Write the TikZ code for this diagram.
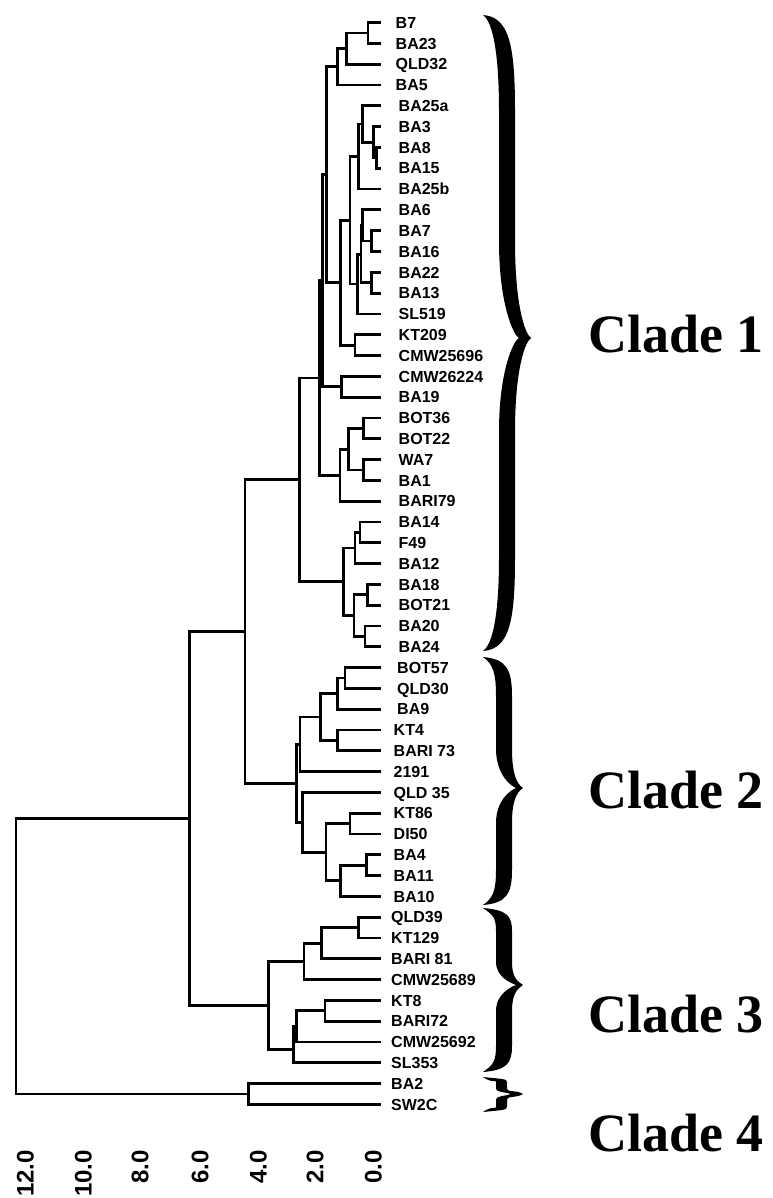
\documentclass[tikz,border=0pt]{standalone}
\usepackage{fontspec}
\setmainfont{Liberation Sans}
\newfontfamily\cladefont{Liberation Serif}
% internal junction of the dendrogram: name, x, position in leaf units
\newcommand\dnode[3]{\coordinate (#1) at (#2,{22.7+20.8*#3});}
% elbow connector: parent, upper child, lower child
\newcommand\dlink[3]{\draw[branch] (#2) -| (#1) |- (#3);}
% filled curly brace: x0 (ends), xi, xo (column), xt (tip), top, tip y, bottom
\newcommand\cbrace[7]{%
  \pgfmathsetmacro\La{#6-#5}%
  \pgfmathsetmacro\Lb{#7-#6}%
  \fill[black] (#1,#5)
    .. controls ({#3-4},{#5+2}) and ({#3+1},{#5+0.1*\La}) .. ({#3+1},{#5+0.3*\La})
    -- ({#3+1},{#6-0.3*\La})
    .. controls ({#3+1},{#6-0.1*\La}) and ({#4-6},{#6-4}) .. (#4,#6)
    .. controls ({#4-6},{#6+4}) and ({#3+1},{#6+0.1*\Lb}) .. ({#3+1},{#6+0.3*\Lb})
    -- ({#3+1},{#7-0.3*\Lb})
    .. controls ({#3+1},{#7-0.1*\Lb}) and ({#3-4},{#7-2}) .. (#1,#7)
    .. controls ({#1+10},{#7-7}) and (#2,{#7-0.12*\Lb}) .. (#2,{#7-0.3*\Lb})
    -- (#2,{#6+0.3*\Lb})
    .. controls (#2,{#6+0.1*\Lb}) and (#3,{#6+2}) .. ({#3+5},#6)
    .. controls (#3,{#6-2}) and (#2,{#6-0.1*\La}) .. (#2,{#6-0.3*\La})
    -- (#2,{#5+0.3*\La})
    .. controls (#2,{#5+0.12*\La}) and ({#1+10},{#5+7}) .. (#1,#5) -- cycle;}
\begin{document}
\begin{tikzpicture}[x=1pt,y=-1pt,
  branch/.style={line width=2.8pt},
  leaflabel/.style={anchor=base west,inner sep=0pt,font=\fontsize{16}{18}\selectfont\bfseries},
  axislabel/.style={anchor=base east,inner sep=0pt,rotate=90,font=\fontsize{24}{28}\selectfont\bfseries},
  cladelabel/.style={anchor=base west,inner sep=0pt,font=\cladefont\fontsize{54}{60}\selectfont\bfseries}]
\useasboundingbox (0,0) rectangle (772,1198);
\fill[white] (0,0) rectangle (772,1198);

% leaves
\foreach \nm [count=\i from 0] in {B7,BA23,QLD32,BA5,BA25a,BA3,BA8,BA15,BA25b,BA6,BA7,BA16,BA22,BA13,SL519,KT209,CMW25696,CMW26224,BA19,BOT36,BOT22,WA7,BA1,BARI79,BA14,F49,BA12,BA18,BOT21,BA20,BA24,BOT57,QLD30,BA9,KT4,BARI 73,2191,QLD 35,KT86,DI50,BA4,BA11,BA10,QLD39,KT129,BARI 81,CMW25689,KT8,BARI72,CMW25692,SL353,BA2,SW2C}{
  \pgfmathsetmacro\yy{22.7+20.8*\i}
  \pgfmathsetmacro\xx{\i<4 ? 395.5 : (\i<31 ? 398.5 : (\i<34 ? 397 : (\i<43 ? 393.5 : 391)))}
  \coordinate (l\i) at (381,\yy);
  \node[leaflabel] (t\i) at (\xx,{\yy+5.7}) {\nm};
}

% clade 1
\dnode{a1}{368}{0.5}        \dlink{a1}{l0}{l1}
\dnode{a2}{346.7}{1.25}     \dlink{a2}{a1}{l2}
\dnode{a3}{337.7}{2.125}    \dlink{a3}{a2}{l3}
\dnode{b1}{376.7}{6.5}      \dlink{b1}{l6}{l7}
\dnode{b2}{373.3}{5.75}     \dlink{b2}{l5}{b1}
\dnode{b3}{362.7}{4.875}    \dlink{b3}{l4}{b2}
\dnode{b4}{358.3}{6.4375}   \dlink{b4}{b3}{l8}
\dnode{c1}{371.7}{10.5}     \dlink{c1}{l10}{l11}
\dnode{c2}{362.7}{9.75}     \dlink{c2}{l9}{c1}
\dnode{c3}{371.7}{12.5}     \dlink{c3}{l12}{l13}
\dnode{c4}{361}{11.125}     \dlink{c4}{c2}{c3}
\dnode{c5}{357.5}{12.5625}  \dlink{c5}{c4}{l14}
\dnode{d1}{350}{9.5}        \dlink{d1}{b4}{c5}
\dnode{e1}{355}{15.5}       \dlink{e1}{l15}{l16}
\dnode{d2}{340.3}{12.5}     \dlink{d2}{d1}{e1}
\dnode{d3}{326.7}{7.3125}   \dlink{d3}{a3}{d2}
\dnode{f1}{341.7}{17.5}     \dlink{f1}{l17}{l18}
\dnode{d4}{322.3}{12.40625} \dlink{d4}{d3}{f1}
\dnode{g1}{363.3}{19.5}     \dlink{g1}{l19}{l20}
\dnode{g2}{363.3}{21.5}     \dlink{g2}{l21}{l22}
\dnode{g3}{348.3}{20.5}     \dlink{g3}{g1}{g2}
\dnode{g4}{340}{21.75}      \dlink{g4}{g3}{l23}
\dnode{d5}{319.3}{17.078}   \dlink{d5}{d4}{g4}
\dnode{h1}{360}{24.5}       \dlink{h1}{l24}{l25}
\dnode{h2}{355}{25.25}      \dlink{h2}{h1}{l26}
\dnode{h3}{367.3}{27.5}     \dlink{h3}{l27}{l28}
\dnode{h4}{365}{29.5}       \dlink{h4}{l29}{l30}
\dnode{h5}{354}{28.5}       \dlink{h5}{h3}{h4}
\dnode{h6}{343.3}{26.875}   \dlink{h6}{h2}{h5}
\dnode{C1}{299.3}{21.977}   \dlink{C1}{d5}{h6}
% clade 2
\dnode{i1}{345}{31.5}       \dlink{i1}{l31}{l32}
\dnode{i2}{337.3}{32.25}    \dlink{i2}{i1}{l33}
\dnode{i3}{337.3}{34.5}     \dlink{i3}{l34}{l35}
\dnode{i4}{320.7}{33.375}   \dlink{i4}{i2}{i3}
\dnode{i5}{300}{34.6875}    \dlink{i5}{i4}{l36}
\dnode{j1}{350}{38.5}       \dlink{j1}{l38}{l39}
\dnode{j2}{366.7}{40.5}     \dlink{j2}{l40}{l41}
\dnode{j3}{340.7}{41.25}    \dlink{j3}{j2}{l42}
\dnode{j4}{326}{39.875}     \dlink{j4}{j1}{j3}
\dnode{j5}{302.7}{38.4375}  \dlink{j5}{l37}{j4}
\dnode{C2}{296.7}{36.5625}  \dlink{C2}{i5}{j5}
\dnode{C12}{245}{29.27}     \dlink{C12}{C1}{C2}
% clade 3
\dnode{k1}{358.3}{43.5}     \dlink{k1}{l43}{l44}
\dnode{k2}{321.7}{44.25}    \dlink{k2}{k1}{l45}
\dnode{k3}{304}{45.125}     \dlink{k3}{k2}{l46}
\dnode{m1}{325}{47.5}       \dlink{m1}{l47}{l48}
\dnode{m2}{296.7}{48.25}    \dlink{m2}{m1}{l49}
\dnode{m3}{293.3}{49.375}   \dlink{m3}{m2}{l50}
\dnode{C3}{268.3}{47.25}    \dlink{C3}{k3}{m3}
\dnode{C123}{189.3}{38.26}  \dlink{C123}{C12}{C3}
% clade 4 and root
\dnode{C4}{248.3}{51.5}     \dlink{C4}{l51}{l52}
\dnode{R}{16}{44.88}        \dlink{R}{C123}{C4}

% axis
\node[axislabel] (ax12) at (33.5,1150) {12.0};
\node[axislabel] (ax10) at (91.7,1150) {10.0};
\node[axislabel] (ax8) at (148.3,1150) {8.0};
\node[axislabel] (ax6) at (208.3,1150) {6.0};
\node[axislabel] (ax4) at (266.7,1150) {4.0};
\node[axislabel] (ax2) at (323.3,1150) {2.0};
\node[axislabel] (ax0) at (381.7,1150) {0.0};

% braces
\cbrace{483}{499}{514}{531}{15}{338}{651}
\cbrace{483}{496}{511}{523}{657}{788}{905}
\cbrace{483}{496}{511}{523}{908}{985}{1072}
\cbrace{483}{496}{506}{523}{1077}{1094}{1112}

% clade labels
\node[cladelabel] (cl1) at (588,352) {Clade 1};
\node[cladelabel] (cl2) at (588,808) {Clade 2};
\node[cladelabel] (cl3) at (588,1032) {Clade 3};
\node[cladelabel] (cl4) at (588,1151) {Clade 4};
\end{tikzpicture}
\end{document}
